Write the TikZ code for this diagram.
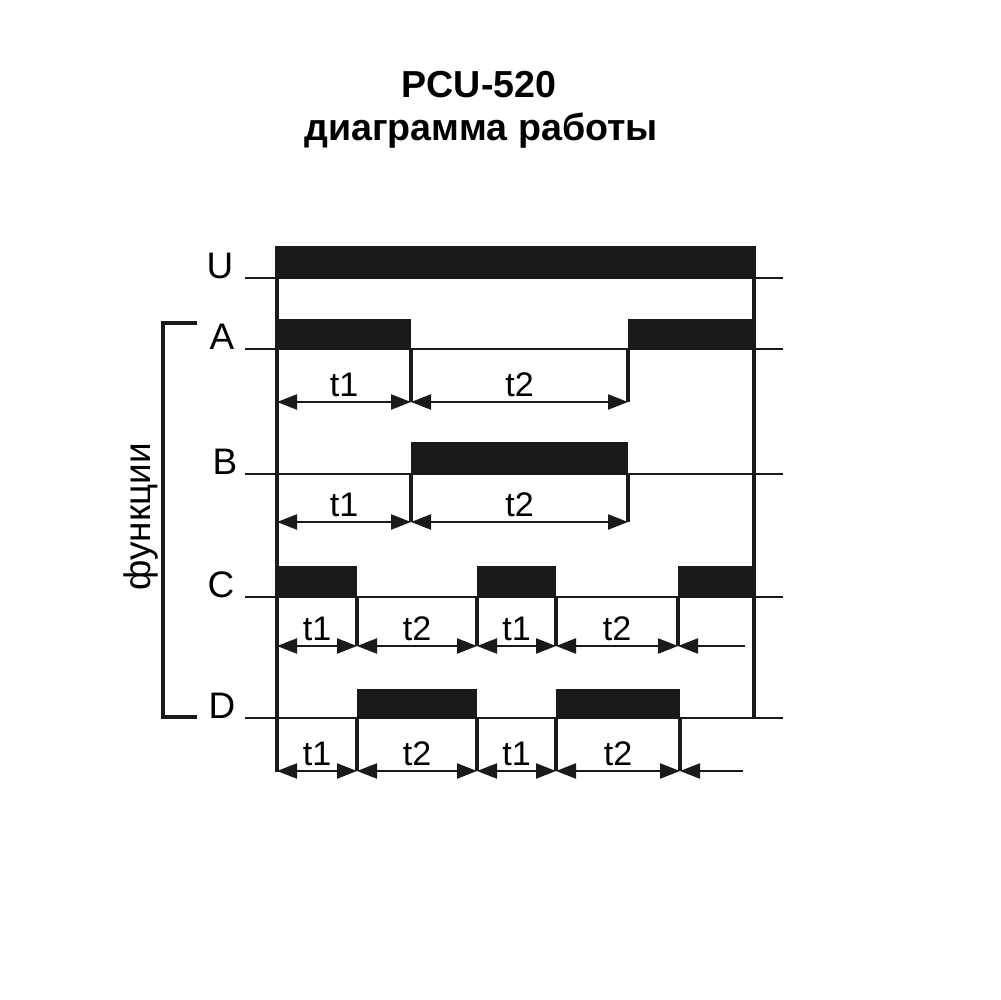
\documentclass[tikz,border=0pt]{standalone}
\usepackage{fontspec}
\setmainfont{Liberation Sans}
\usepackage{tikz}
\usetikzlibrary{arrows.meta}
\definecolor{ink}{HTML}{1A1A18}
\tikzset{
    title/.style={
        font=\fontsize{10.7}{13}\selectfont\bfseries, anchor=base, inner sep=0pt
    },
    siglabel/.style={
        font=\fontsize{10.5}{12}\selectfont, anchor=base, inner sep=0pt
    },
    timelabel/.style={
        font=\fontsize{9.7}{11}\selectfont, anchor=base, inner sep=0pt
    },
    sidelabel/.style={
        font=\fontsize{10.5}{13}\selectfont, rotate=90, inner sep=0pt
    },
    pulse/.style={fill=ink, draw=none},
    sigline/.style={draw=ink, line width=0.65pt},
    vline/.style={draw=ink, line width=0.9pt},
    bracket/.style={draw=ink, line width=1pt},
    dimarrow/.style={draw=ink, line width=0.65pt,
        {Triangle[length=2mm,width=1.5mm]}-{Triangle[length=2mm,width=1.5mm]}},
    halfarrow/.style={draw=ink, line width=0.65pt,
        {Triangle[length=2mm,width=1.5mm]}-},
}
\begin{document}
\begin{tikzpicture}[x=0.1mm, y=-0.1mm]
    \useasboundingbox (0,0) rectangle (1000,1000);
    % title
    \node[title] (ttl1) at (479,97) {PCU-520};
    \node[title] (ttl2) at (481,140) {диаграмма работы};
    % signal lines and names
    \foreach \nm/\xl/\yb in {U/220/278, A/222/349, B/225/474, C/221/597, D/222/718}{
        \node[siglabel] (lbl\nm) at (\xl,\yb) {\nm};
        \draw[sigline] (245,\yb) -- (783,\yb);
    }
    % pulses
    \foreach \xa/\xb/\yt/\yb in {277/754/246/279, 277/411/319/350, 628/754/319/350,
            411/628/442/474, 277/357/566/597, 477/556/566/597, 678/754/566/597,
            357/477/689/718, 556/680/689/718}
        \fill[pulse] (\xa,\yt) rectangle (\xb,\yb);
    % frame
    \draw[vline] (277,246) -- (277,772);
    \draw[vline] (754,246) -- (754,718);
    % ticks
    \foreach \x/\ya/\yb in {411/349/402, 628/349/402, 411/473/522, 628/473/522,
            357/596/646, 477/596/646, 556/596/646, 678/596/646,
            357/718/771, 477/718/771, 556/718/771, 680/718/771}
        \draw[vline] (\x,\ya) -- (\x,\yb);
    % time spans
    \foreach \xa/\xb/\y/\t in {277/411/402/t1, 411/628/402/t2, 277/411/522/t1, 411/628/522/t2,
            277/357/646/t1, 357/477/646/t2, 477/556/646/t1, 556/678/646/t2,
            277/357/771/t1, 357/477/771/t2, 477/556/771/t1, 556/680/771/t2}{
        \draw[dimarrow] (\xa,\y) -- (\xb,\y);
        \node[timelabel] (span-\xa-\y) at ({(\xa+\xb)/2},{\y-6}) {\t};
    }
    \draw[halfarrow] (678,646) -- (745,646);
    \draw[halfarrow] (680,771) -- (743,771);
    % functions bracket
    \draw[bracket] (197,323) -- (163,323) -- (163,717) -- (197,717);
    \node[sidelabel] (fn) at (141,517) {функции};
\end{tikzpicture}
\end{document}
